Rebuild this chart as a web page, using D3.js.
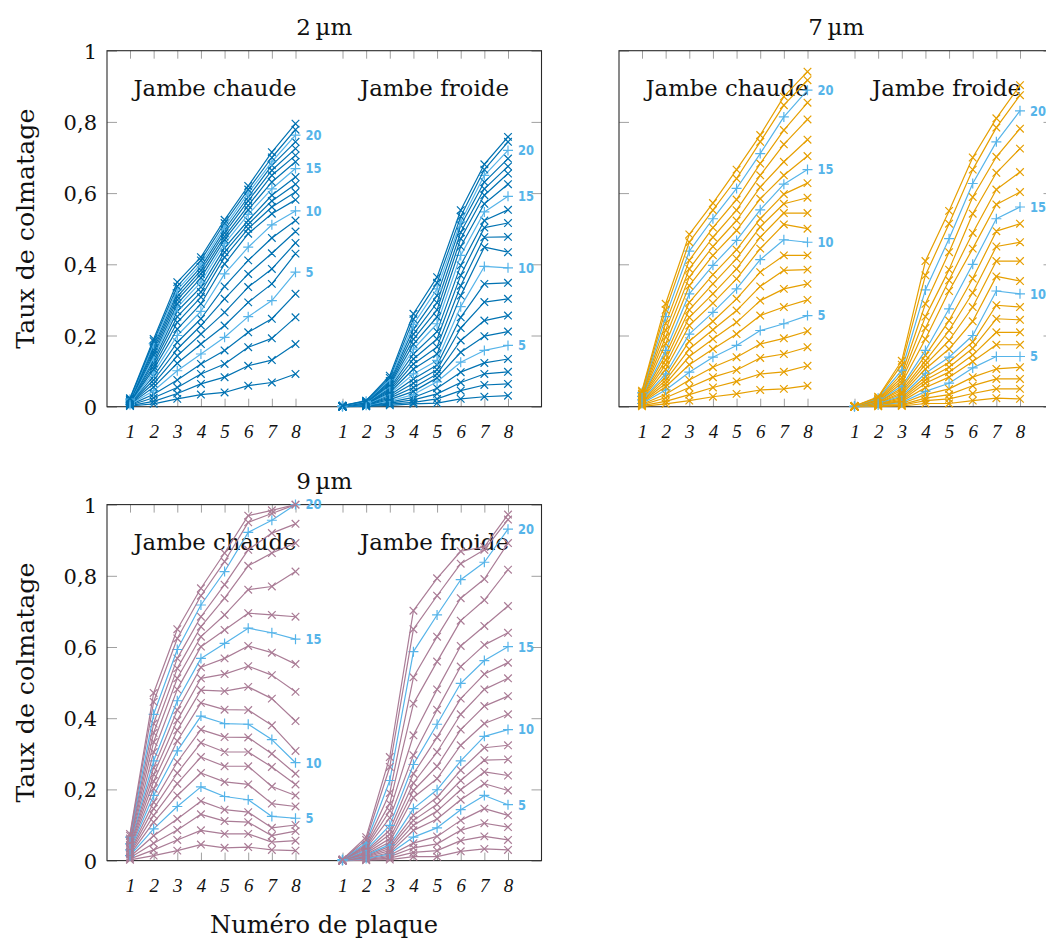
<!DOCTYPE html>
<html><head><meta charset="utf-8">
<script src="https://cdn.jsdelivr.net/npm/d3@7"></script>
<style>body{margin:0;background:#fff}svg{display:block}</style>
</head><body>
<svg id="chart" width="1046" height="940"></svg>
<script>
// ---------- data ----------
const plates = [1, 2, 3, 4, 5, 6, 7, 8];
const legNames = ["Jambe chaude", "Jambe froide"];
const panelTitles = ["2\u2009µm", "7\u2009µm", "9\u2009µm"];
const yTickValues = [0, 0.2, 0.4, 0.6, 0.8, 1];
const yTickLabels = ["0", "0,2", "0,4", "0,6", "0,8", "1"];
const labeledSeries = [5, 10, 15, 20];
const yAxisTitle = "Taux de colmatage";
const xAxisTitle = "Numéro de plaque";

// each row = one plate (1..8), 22 values = series 1..22
const hot2 = [
  [0.002,0.003,0.004,0.005,0.006,0.007,0.008,0.009,0.010,0.011,0.012,0.013,0.014,0.015,0.016,0.017,0.018,0.019,0.020,0.021,0.022,0.024],
  [0.008,0.015,0.025,0.035,0.045,0.055,0.065,0.075,0.085,0.095,0.105,0.113,0.122,0.130,0.138,0.146,0.154,0.162,0.170,0.177,0.184,0.190],
  [0.022,0.037,0.054,0.075,0.101,0.122,0.143,0.162,0.181,0.200,0.218,0.237,0.253,0.268,0.279,0.289,0.300,0.309,0.319,0.328,0.338,0.350],
  [0.034,0.064,0.092,0.120,0.148,0.176,0.204,0.228,0.247,0.268,0.289,0.308,0.322,0.336,0.350,0.362,0.373,0.383,0.392,0.401,0.411,0.420],
  [0.040,0.083,0.120,0.158,0.195,0.228,0.265,0.303,0.338,0.373,0.401,0.420,0.434,0.446,0.458,0.469,0.478,0.488,0.497,0.506,0.516,0.525],
  [0.059,0.115,0.167,0.209,0.253,0.293,0.336,0.373,0.411,0.448,0.486,0.500,0.512,0.523,0.540,0.553,0.565,0.578,0.589,0.600,0.610,0.620],
  [0.068,0.131,0.192,0.247,0.298,0.345,0.387,0.431,0.474,0.511,0.542,0.561,0.578,0.594,0.612,0.631,0.650,0.664,0.678,0.688,0.700,0.715],
  [0.092,0.176,0.251,0.317,0.378,0.430,0.460,0.492,0.523,0.550,0.581,0.603,0.625,0.645,0.669,0.688,0.706,0.725,0.744,0.763,0.778,0.795]
];
const cold2 = [
  [0,0,0,0,0,0,0.001,0.001,0.001,0.001,0.001,0.001,0.001,0.002,0.002,0.002,0.002,0.002,0.002,0.003,0.003,0.003],
  [0.001,0.002,0.002,0.003,0.004,0.004,0.005,0.006,0.006,0.007,0.008,0.008,0.009,0.010,0.011,0.011,0.012,0.013,0.014,0.015,0.016,0.017],
  [0.004,0.007,0.010,0.013,0.016,0.020,0.024,0.028,0.032,0.036,0.040,0.044,0.048,0.052,0.056,0.060,0.064,0.068,0.072,0.076,0.081,0.087],
  [0.008,0.012,0.019,0.026,0.034,0.043,0.054,0.066,0.078,0.092,0.106,0.120,0.134,0.148,0.162,0.176,0.190,0.204,0.218,0.231,0.246,0.261],
  [0.010,0.022,0.036,0.052,0.070,0.081,0.092,0.104,0.117,0.130,0.148,0.168,0.190,0.211,0.233,0.252,0.272,0.292,0.312,0.331,0.348,0.364],
  [0.022,0.045,0.068,0.097,0.125,0.153,0.186,0.221,0.251,0.281,0.312,0.340,0.369,0.397,0.425,0.450,0.472,0.490,0.509,0.519,0.534,0.552],
  [0.028,0.061,0.092,0.123,0.158,0.198,0.242,0.294,0.345,0.394,0.448,0.476,0.503,0.523,0.547,0.570,0.594,0.612,0.631,0.650,0.666,0.681],
  [0.031,0.064,0.098,0.134,0.172,0.211,0.256,0.303,0.348,0.390,0.434,0.477,0.516,0.553,0.591,0.625,0.655,0.675,0.697,0.720,0.744,0.758]
];
const hot7 = [
  [0.001,0.003,0.005,0.007,0.009,0.011,0.013,0.015,0.017,0.019,0.021,0.023,0.025,0.027,0.029,0.031,0.033,0.035,0.037,0.039,0.042,0.045],
  [0.008,0.015,0.025,0.035,0.047,0.056,0.065,0.074,0.083,0.092,0.105,0.118,0.131,0.145,0.158,0.177,0.196,0.215,0.234,0.253,0.272,0.289],
  [0.017,0.034,0.054,0.075,0.097,0.118,0.141,0.162,0.184,0.204,0.228,0.251,0.272,0.293,0.317,0.340,0.364,0.387,0.411,0.437,0.462,0.484],
  [0.028,0.054,0.083,0.111,0.139,0.162,0.190,0.216,0.240,0.265,0.291,0.317,0.345,0.371,0.397,0.425,0.450,0.476,0.503,0.528,0.552,0.572],
  [0.036,0.071,0.103,0.139,0.172,0.204,0.237,0.270,0.303,0.331,0.359,0.387,0.416,0.441,0.467,0.495,0.523,0.552,0.582,0.613,0.641,0.666],
  [0.047,0.092,0.137,0.176,0.214,0.256,0.298,0.338,0.378,0.413,0.444,0.476,0.505,0.528,0.553,0.584,0.617,0.650,0.683,0.711,0.744,0.763],
  [0.050,0.098,0.148,0.192,0.233,0.280,0.331,0.383,0.425,0.469,0.512,0.544,0.570,0.597,0.625,0.650,0.688,0.737,0.777,0.814,0.847,0.871],
  [0.059,0.115,0.167,0.212,0.256,0.300,0.345,0.385,0.425,0.462,0.500,0.544,0.587,0.628,0.666,0.704,0.750,0.807,0.854,0.889,0.917,0.941]
];
const cold7 = [
  [0,0,0,0,0,0,0,0,0.001,0.001,0.001,0.001,0.001,0.001,0.001,0.001,0.002,0.002,0.002,0.002,0.002,0.002],
  [0.001,0.002,0.003,0.004,0.005,0.006,0.007,0.008,0.009,0.010,0.011,0.012,0.013,0.014,0.015,0.016,0.018,0.020,0.022,0.024,0.026,0.028],
  [0.002,0.004,0.006,0.009,0.012,0.015,0.018,0.022,0.026,0.030,0.035,0.040,0.046,0.052,0.058,0.066,0.074,0.082,0.092,0.103,0.118,0.129],
  [0.009,0.017,0.024,0.034,0.043,0.054,0.066,0.075,0.084,0.094,0.106,0.118,0.129,0.144,0.158,0.190,0.221,0.253,0.289,0.328,0.369,0.409],
  [0.009,0.022,0.034,0.050,0.066,0.083,0.097,0.111,0.125,0.139,0.162,0.186,0.214,0.242,0.275,0.325,0.355,0.385,0.434,0.472,0.514,0.550],
  [0.017,0.037,0.059,0.083,0.109,0.127,0.145,0.164,0.182,0.200,0.240,0.280,0.320,0.360,0.400,0.444,0.488,0.542,0.589,0.627,0.666,0.700],
  [0.024,0.050,0.078,0.106,0.141,0.174,0.209,0.247,0.285,0.325,0.366,0.409,0.450,0.493,0.528,0.568,0.610,0.657,0.702,0.744,0.784,0.810],
  [0.022,0.050,0.078,0.111,0.141,0.174,0.209,0.244,0.280,0.317,0.353,0.409,0.462,0.514,0.561,0.603,0.659,0.725,0.781,0.831,0.875,0.903]
];
const hot9 = [
  [0.002,0.005,0.008,0.011,0.014,0.017,0.020,0.023,0.026,0.030,0.033,0.036,0.040,0.043,0.047,0.050,0.054,0.058,0.062,0.066,0.070,0.075],
  [0.014,0.030,0.049,0.070,0.089,0.108,0.127,0.146,0.164,0.183,0.202,0.223,0.242,0.261,0.280,0.305,0.333,0.359,0.385,0.411,0.446,0.471],
  [0.028,0.058,0.086,0.117,0.152,0.183,0.216,0.246,0.277,0.308,0.336,0.366,0.394,0.423,0.449,0.481,0.512,0.540,0.568,0.593,0.624,0.650],
  [0.045,0.085,0.130,0.167,0.207,0.246,0.291,0.331,0.368,0.406,0.443,0.479,0.512,0.543,0.568,0.601,0.629,0.657,0.685,0.718,0.744,0.765],
  [0.036,0.075,0.111,0.143,0.180,0.221,0.265,0.305,0.347,0.385,0.424,0.476,0.524,0.568,0.610,0.648,0.690,0.737,0.775,0.812,0.840,0.864],
  [0.038,0.075,0.108,0.136,0.171,0.214,0.265,0.305,0.346,0.383,0.423,0.488,0.546,0.603,0.653,0.695,0.761,0.828,0.873,0.922,0.950,0.969],
  [0.030,0.052,0.070,0.092,0.124,0.160,0.208,0.263,0.300,0.340,0.380,0.455,0.521,0.584,0.640,0.690,0.770,0.864,0.920,0.956,0.975,0.984],
  [0.028,0.056,0.083,0.100,0.119,0.152,0.183,0.214,0.244,0.275,0.308,0.392,0.474,0.552,0.622,0.685,0.812,0.892,0.946,1.000,1.000,1.000]
];
const cold9 = [
  [0,0,0,0,0,0,0,0,0.001,0.001,0.001,0.001,0.001,0.001,0.002,0.002,0.002,0.002,0.002,0.003,0.003,0.003],
  [0.001,0.002,0.003,0.005,0.006,0.008,0.010,0.012,0.014,0.016,0.018,0.021,0.024,0.027,0.030,0.034,0.038,0.042,0.046,0.050,0.058,0.066],
  [0.003,0.007,0.011,0.015,0.019,0.022,0.028,0.034,0.040,0.045,0.052,0.062,0.074,0.086,0.099,0.120,0.140,0.160,0.190,0.225,0.263,0.291],
  [0.011,0.023,0.036,0.049,0.066,0.085,0.099,0.113,0.127,0.146,0.177,0.197,0.218,0.244,0.270,0.296,0.352,0.441,0.515,0.587,0.650,0.702],
  [0.011,0.028,0.047,0.068,0.092,0.117,0.139,0.158,0.178,0.199,0.230,0.265,0.305,0.346,0.383,0.424,0.481,0.559,0.629,0.690,0.744,0.793],
  [0.026,0.056,0.085,0.113,0.143,0.171,0.199,0.225,0.254,0.280,0.324,0.368,0.411,0.455,0.498,0.545,0.603,0.674,0.737,0.789,0.834,0.869],
  [0.033,0.068,0.105,0.146,0.183,0.216,0.249,0.282,0.317,0.349,0.385,0.434,0.481,0.524,0.562,0.606,0.659,0.732,0.791,0.838,0.873,0.881],
  [0.030,0.058,0.094,0.127,0.157,0.197,0.239,0.284,0.324,0.368,0.411,0.462,0.512,0.556,0.601,0.640,0.715,0.817,0.892,0.931,0.958,0.972]
];

const lineColors = ["#0072B2", "#E69F00", "#AA7C96"];
const highlightColor = "#56B4E9";

// ---------- drawing ----------
const svg = d3.select("#chart");
const serif = "'DejaVu Serif', serif";
const W = 434.5, H = 356;

const panels = [
  {title: panelTitles[0], L: 107, T: 50.7, data: [hot2, cold2], color: lineColors[0], yLabels: true},
  {title: panelTitles[1], L: 619, T: 50.7, data: [hot7, cold7], color: lineColors[1], yLabels: false},
  {title: panelTitles[2], L: 107, T: 504.6, data: [hot9, cold9], color: lineColors[2], yLabels: true}
];

function crossPath(x, y, s) { return `M${x-s},${y-s}L${x+s},${y+s}M${x-s},${y+s}L${x+s},${y-s}`; }
function plusPath(x, y, s) { return `M${x-s},${y}L${x+s},${y}M${x},${y-s}L${x},${y+s}`; }

function styleAxis(g) {
  g.select(".domain").remove();
  g.selectAll(".tick line").attr("stroke", "#a0a0a0").attr("stroke-width", 1);
}

panels.forEach(p => {
  const L = p.L, T = p.T, B = T + H, R = L + W;
  const g = svg.append("g");
  const y = d3.scaleLinear().domain([0, 1]).range([B, T]);
  const xs = [
    d3.scaleLinear().domain([1, 8]).range([L + 23, L + 188.5]),
    d3.scaleLinear().domain([1, 8]).range([L + 235.5, L + 401])
  ];

  // axes (ticks inward)
  xs.forEach(x => {
    const gb = g.append("g").attr("transform", `translate(0,${B})`)
      .call(d3.axisBottom(x).tickValues(plates).tickSizeInner(-8).tickSizeOuter(0).tickPadding(18).tickFormat(d3.format("d")));
    styleAxis(gb);
    gb.selectAll("text").attr("font-family", "'Liberation Serif', serif").attr("font-style", "italic")
      .attr("font-size", 19).attr("fill", "#111");
    const gt = g.append("g").attr("transform", `translate(0,${T})`)
      .call(d3.axisTop(x).tickValues(plates).tickSizeInner(-8).tickSizeOuter(0).tickFormat(""));
    styleAxis(gt);
  });
  const gl = g.append("g").attr("transform", `translate(${L},0)`)
    .call(d3.axisLeft(y).tickValues(yTickValues).tickSizeInner(-10).tickSizeOuter(0).tickPadding(10)
      .tickFormat((d, i) => p.yLabels ? yTickLabels[i] : ""));
  styleAxis(gl);
  gl.selectAll("text").attr("font-family", serif).attr("font-size", 21).attr("fill", "#111").attr("dy", "0.36em");
  const gr = g.append("g").attr("transform", `translate(${R},0)`)
    .call(d3.axisRight(y).tickValues(yTickValues).tickSizeInner(-10).tickSizeOuter(0).tickFormat(""));
  styleAxis(gr);

  // frame
  g.append("rect").attr("x", L).attr("y", T).attr("width", W).attr("height", H)
    .attr("fill", "none").attr("stroke", "#2a2a2a").attr("stroke-width", 1.1);

  // title
  g.append("text").attr("x", L + W / 2).attr("y", T - 15.5).attr("text-anchor", "middle")
    .attr("font-family", serif).attr("font-size", 23).attr("fill", "#111").text(p.title);

  // leg labels
  legNames.forEach((name, i) => {
    g.append("text").attr("x", xs[i](8) + 1).attr("y", T + 45.3).attr("text-anchor", "end")
      .attr("font-family", serif).attr("font-size", 22).attr("fill", "#111")
      .attr("textLength", i === 0 ? 163 : 149).attr("lengthAdjust", "spacingAndGlyphs")
      .text(name);
  });

  // series
  p.data.forEach((table, i) => {
    const x = xs[i];
    const nSeries = table[0].length;
    const line = d3.line().x((d, k) => x(plates[k])).y(d => y(d));
    const sg = g.append("g");
    for (let s = 0; s < nSeries; s++) {
      const vals = table.map(row => row[s]);
      const hl = labeledSeries.includes(s + 1);
      const col = hl ? highlightColor : p.color;
      sg.append("path").attr("d", line(vals)).attr("fill", "none")
        .attr("stroke", col).attr("stroke-width", 1.2).attr("stroke-linejoin", "round");
      sg.append("path")
        .attr("d", vals.map((v, k) => hl ? plusPath(x(plates[k]), y(v), 5) : crossPath(x(plates[k]), y(v), 3.8)).join(""))
        .attr("fill", "none").attr("stroke", col).attr("stroke-width", 1.2);
      if (hl) {
        sg.append("text").attr("x", x(8) + 10).attr("y", y(vals[vals.length - 1]))
          .attr("dy", "0.36em").attr("font-family", "'DejaVu Sans', sans-serif")
          .attr("font-weight", "bold").attr("font-size", 13.5).attr("fill", highlightColor)
          .attr("textLength", String(s + 1).length === 2 ? 16 : 8).attr("lengthAdjust", "spacingAndGlyphs")
          .text(String(s + 1));
      }
    }
  });

  // y axis title
  if (p.yLabels) {
    g.append("text").attr("transform", `translate(34,${T + H / 2}) rotate(-90)`)
      .attr("text-anchor", "middle").attr("font-family", serif).attr("font-size", 24).attr("fill", "#111")
      .attr("textLength", 240).attr("lengthAdjust", "spacingAndGlyphs").text(yAxisTitle);
  }
});

svg.append("text").attr("x", 324).attr("y", 932.5).attr("text-anchor", "middle")
  .attr("font-family", serif).attr("font-size", 25).attr("fill", "#111")
  .attr("textLength", 228).attr("lengthAdjust", "spacingAndGlyphs").text(xAxisTitle);
</script>
</body></html>
